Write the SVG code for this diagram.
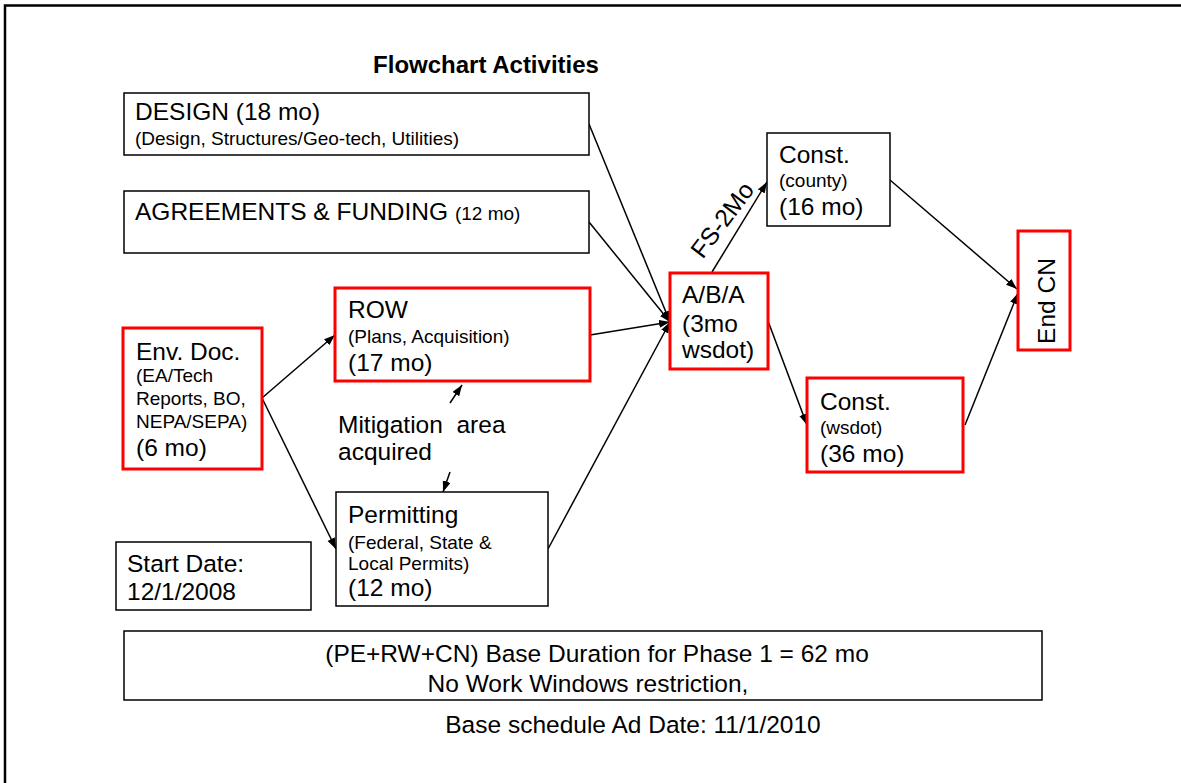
<svg xmlns="http://www.w3.org/2000/svg" width="1181" height="783" viewBox="0 0 1181 783">
<style>
text{font-family:"Liberation Sans",Arial,Helvetica,sans-serif;fill:#000}
.b{fill:#fff;stroke:#000;stroke-width:1.5}
.r{fill:#fff;stroke:#ff0000;stroke-width:3}
.l{font-size:24.5px}
.s{font-size:19px}
.c{stroke:#000;stroke-width:1.5;fill:none;marker-end:url(#ah)}
</style>
<defs>
<marker id="ah" markerUnits="userSpaceOnUse" markerWidth="12" markerHeight="10" refX="11" refY="4" orient="auto">
<path d="M0,0 L11,4 L0,8 Z" fill="#000"/>
</marker>
</defs>
<rect width="1181" height="783" fill="#fff"/>
<path d="M5,783 V5.5 H1181" fill="none" stroke="#000" stroke-width="2.5"/>
<text x="486" y="73" text-anchor="middle" style="font-size:24px;font-weight:bold">Flowchart Activities</text>

<g id="connectors">
<line class="c" x1="589" y1="124" x2="670" y2="322"/>
<line class="c" x1="589" y1="222" x2="670" y2="322"/>
<line class="c" x1="590" y1="335" x2="670" y2="322"/>
<line class="c" x1="548" y1="549" x2="670" y2="322"/>
<line class="c" x1="262" y1="398" x2="335" y2="335"/>
<line class="c" x1="262" y1="398" x2="336" y2="549"/>
<line class="c" x1="712" y1="272" x2="767" y2="182"/>
<line class="c" x1="768" y1="321" x2="807" y2="425"/>
<line class="c" x1="890" y1="180" x2="1017" y2="289"/>
<line class="c" x1="965" y1="425" x2="1018" y2="293"/>
<line class="c" x1="450" y1="403" x2="462" y2="385"/>
<line class="c" x1="450" y1="472" x2="443" y2="492"/>
<text class="l" transform="translate(729,225) rotate(-53)" text-anchor="middle">FS-2Mo</text>
</g>

<g id="design">
<rect class="b" x="124" y="93" width="465" height="62"/>
<text class="l" x="135" y="120">DESIGN (18 mo)</text>
<text class="s" x="135" y="145">(Design, Structures/Geo-tech, Utilities)</text>
</g>

<g id="agreements">
<rect class="b" x="124" y="191" width="465" height="62"/>
<text class="l" x="135" y="220">AGREEMENTS &amp; FUNDING <tspan class="s">(12 mo)</tspan></text>
</g>

<g id="envdoc">
<rect class="r" x="123" y="328" width="139" height="141"/>
<text class="l" x="136" y="360">Env. Doc.</text>
<text class="s" x="136" y="382">(EA/Tech</text>
<text class="s" x="136" y="405">Reports, BO,</text>
<text class="s" x="136" y="428">NEPA/SEPA)</text>
<text class="l" x="136" y="456">(6 mo)</text>
</g>

<g id="row">
<rect class="r" x="335" y="288" width="255" height="93"/>
<text class="l" x="348" y="318">ROW</text>
<text class="s" x="348" y="343">(Plans, Acquisition)</text>
<text class="l" x="348" y="371">(17 mo)</text>
</g>

<g id="mitigation">
<text class="l" x="338" y="433" style="white-space:pre">Mitigation  area</text>
<text class="l" x="338" y="460">acquired</text>
</g>

<g id="permitting">
<rect class="b" x="336" y="492" width="212" height="114"/>
<text class="l" x="348" y="523">Permitting</text>
<text class="s" x="348" y="549">(Federal, State &amp;</text>
<text class="s" x="348" y="570">Local Permits)</text>
<text class="l" x="348" y="596">(12 mo)</text>
</g>

<g id="startdate">
<rect class="b" x="116" y="542" width="195" height="68"/>
<text class="l" x="127" y="572">Start Date:</text>
<text class="l" x="127" y="600">12/1/2008</text>
</g>

<g id="aba">
<rect class="r" x="670" y="273" width="98" height="96"/>
<text class="l" x="682" y="303">A/B/A</text>
<text class="l" x="682" y="332">(3mo</text>
<text class="l" x="682" y="358">wsdot)</text>
</g>

<g id="constcounty">
<rect class="b" x="767" y="133" width="123" height="93"/>
<text class="l" x="779" y="163">Const.</text>
<text class="s" x="779" y="187">(county)</text>
<text class="l" x="779" y="215">(16 mo)</text>
</g>

<g id="constwsdot">
<rect class="r" x="807" y="378" width="156" height="94"/>
<text class="l" x="820" y="410">Const.</text>
<text class="s" x="820" y="434">(wsdot)</text>
<text class="l" x="820" y="462">(36 mo)</text>
</g>

<g id="endcn">
<rect class="r" x="1018" y="231" width="52" height="119"/>
<text class="l" transform="translate(1055,301) rotate(-90)" text-anchor="middle">End CN</text>
</g>

<g id="summary">
<rect class="b" x="124" y="631" width="918" height="69"/>
<text class="l" x="597" y="662" text-anchor="middle">(PE+RW+CN) Base Duration for Phase 1 = 62 mo</text>
<text class="l" x="588" y="692" text-anchor="middle">No Work Windows restriction,</text>
</g>
<text class="l" x="633" y="733" text-anchor="middle">Base schedule Ad Date: 11/1/2010</text>
</svg>
